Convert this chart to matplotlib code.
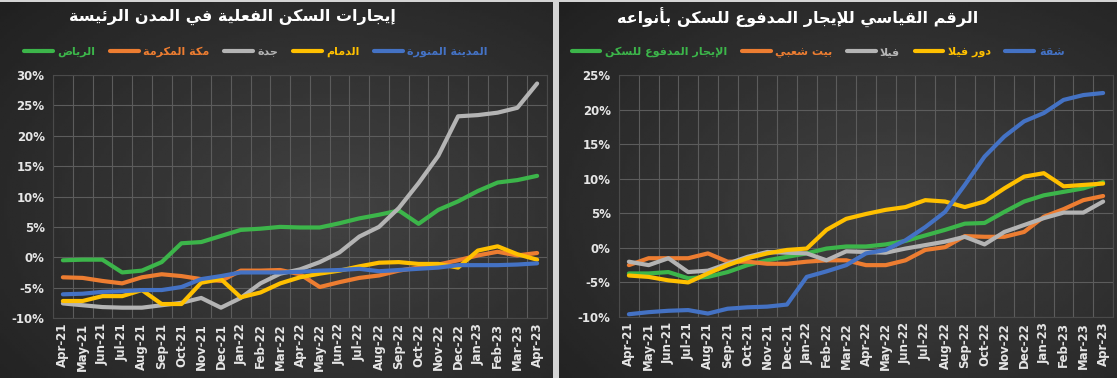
import numpy as np
import pandas as pd
import matplotlib
matplotlib.use("Agg")
import matplotlib.pyplot as plt

# ---- data (values in %) ----
months = list(pd.date_range("2021-04-01", periods=25, freq="MS").strftime("%b-%y"))

# left chart: actual rents in main cities
riyadh  = [-0.5, -0.4, -0.4, -2.5, -2.2, -0.8, 2.3, 2.5, 3.5, 4.5, 4.7, 5.0, 4.9, 4.9, 5.6,
           6.4, 7.0, 7.7, 5.5, 7.8, 9.2, 10.9, 12.3, 12.7, 13.4]
makkah  = [-3.3, -3.4, -3.9, -4.3, -3.3, -2.8, -3.1, -3.6, -3.9, -2.2, -2.2, -2.1, -2.8, -4.9, -4.1,
           -3.4, -3.0, -2.2, -1.7, -1.2, -0.5, 0.3, 0.9, 0.3, 0.7]
jeddah  = [-7.6, -7.9, -8.2, -8.3, -8.3, -7.9, -7.5, -6.7, -8.3, -6.7, -4.3, -2.7, -2.0, -0.8, 0.8,
           3.4, 5.0, 8.1, 12.2, 16.7, 23.2, 23.4, 23.8, 24.6, 28.6]
dammam  = [-7.2, -7.2, -6.4, -6.4, -5.4, -7.7, -7.7, -4.2, -3.6, -6.6, -5.8, -4.3, -3.3, -2.7, -2.2,
           -1.5, -0.9, -0.8, -1.1, -1.1, -1.7, 1.1, 1.8, 0.5, -0.4]
madinah = [-6.1, -6.0, -5.7, -5.6, -5.4, -5.4, -4.9, -3.6, -3.1, -2.5, -2.5, -2.5, -2.4, -2.2, -2.1,
           -1.9, -2.3, -2.1, -1.9, -1.7, -1.3, -1.3, -1.3, -1.2, -1.0]

# right chart: paid rent index by dwelling type
housing = [-3.7, -3.7, -3.5, -4.4, -4.2, -3.5, -2.5, -1.8, -1.3, -0.8, -0.1, 0.2, 0.2, 0.5, 1.0,
           1.8, 2.6, 3.5, 3.6, 5.2, 6.7, 7.6, 8.1, 8.6, 9.5]
house   = [-2.5, -1.5, -1.5, -1.5, -0.8, -2.0, -2.0, -2.3, -2.3, -2.0, -1.8, -1.8, -2.5, -2.5, -1.8,
           -0.3, 0.1, 1.7, 1.6, 1.6, 2.3, 4.5, 5.6, 6.9, 7.5]
villa   = [-2.0, -2.5, -1.5, -3.5, -3.3, -2.3, -1.3, -0.6, -0.7, -0.8, -1.8, -0.5, -0.6, -0.7, -0.1,
           0.4, 0.9, 1.6, 0.5, 2.3, 3.3, 4.3, 5.1, 5.1, 6.7]
floor   = [-4.0, -4.2, -4.7, -5.0, -3.7, -2.5, -1.5, -0.8, -0.3, -0.1, 2.6, 4.2, 4.9, 5.5, 5.9,
           6.9, 6.7, 5.9, 6.7, 8.6, 10.3, 10.8, 8.9, 9.1, 9.3]
flat    = [-9.6, -9.3, -9.1, -9.0, -9.5, -8.8, -8.6, -8.5, -8.2, -4.2, -3.4, -2.5, -0.8, -0.3, 1.1,
           3.0, 5.2, 9.1, 13.2, 16.1, 18.3, 19.5, 21.4, 22.1, 22.4]

GREEN, ORANGE, GRAY, YELLOW, BLUE = "#3cb54a", "#ed7d31", "#b4b4b4", "#ffc000", "#4472c4"

# ---- minimal Arabic shaping (matplotlib has no bidi / joining) ----
LETTERS = "ءآأؤإئابةتثجحخدذرزسشصضطظعغفقكلمنهوىي"
NFORMS = [1, 2, 2, 2, 2, 4, 2, 4, 2, 4, 4, 4, 4, 4, 2, 2, 2, 2, 4, 4,
          4, 4, 4, 4, 4, 4, 4, 4, 4, 4, 4, 4, 4, 2, 2, 4]
FORMS = {}
code = 0xFE80
for ch, n in zip(LETTERS, NFORMS):
    FORMS[ch] = [chr(code + k) for k in range(n)]
    code += n
LAM_ALEF = {"آ": "\ufef5\ufef6", "أ": "\ufef7\ufef8", "إ": "\ufef9\ufefa", "ا": "\ufefb\ufefc"}


def ar(text):
    units, i = [], 0
    while i < len(text):
        if text[i] == "ل" and text[i + 1:i + 2] in LAM_ALEF:
            units.append(text[i:i + 2])
            i += 2
        else:
            units.append(text[i])
            i += 1
    res = []
    for k, u in enumerate(units):
        prev = units[k - 1] if k > 0 else " "
        nxt = units[k + 1] if k + 1 < len(units) else " "
        p = len(FORMS.get(prev, "")) == 4
        if len(u) == 2:
            res.append(LAM_ALEF[u[1]][1 if p else 0])
            continue
        f = FORMS.get(u)
        if f is None:
            res.append(u)
            continue
        p = p and len(f) >= 2
        n = len(f) == 4 and ((nxt in FORMS and len(FORMS[nxt]) >= 2) or len(nxt) == 2)
        res.append(f[3] if p and n else f[1] if p else f[2] if n else f[0])
    return "".join(reversed(res))


plt.rcParams["font.family"] = ["DejaVu Sans"]
plt.rcParams["font.weight"] = "bold"

W, H = 1117, 378
fig = plt.figure(figsize=(W / 100, H / 100), dpi=100, facecolor="#d4d4d4")

# dark gradient panels
yy, xx = np.mgrid[0:1:120j, 0:1:200j]
for x0, x1 in [(0, 553), (559, 1117)]:
    bg = fig.add_axes([x0 / W, 0, (x1 - x0) / W, 376 / H])
    r = np.sqrt(((xx - 0.6) / 0.8) ** 2 + ((yy - 0.55) / 0.8) ** 2)
    bg.imshow(np.clip(0.26 - 0.13 * r, 0.13, 0.3), cmap="gray", vmin=0, vmax=1,
              aspect="auto", extent=[0, 1, 0, 1])
    bg.axis("off")


def panel(rect, series, ylim, title, tpos, lpos):
    ax = fig.add_axes([rect[0] / W, 1 - rect[3] / H, (rect[2] - rect[0]) / W, (rect[3] - rect[1]) / H])
    ax.set_facecolor("none")
    x = np.arange(len(months))
    for vals, col, lab in series:
        ax.plot(x, vals, color=col, lw=3.0, label=ar(lab), solid_capstyle="round",
                solid_joinstyle="round")
    ax.set_xlim(-0.5, len(months) - 0.5)
    ax.set_ylim(*ylim)
    ax.set_yticks(np.arange(ylim[0], ylim[1] + 1, 5))
    ax.set_yticklabels([f"{v}%" for v in range(ylim[0], ylim[1] + 1, 5)])
    ax.set_xticks(x)
    ax.set_xticklabels(months, rotation=90)
    ax.set_xticks(np.arange(-0.5, len(months), 1), minor=True)
    ax.grid(axis="y", which="major", color="#5c5c5c", lw=0.8)
    ax.grid(axis="x", which="minor", color="#5c5c5c", lw=0.8)
    ax.tick_params(which="both", length=0, colors="#e6e6e6", labelsize=8.5)
    ax.tick_params(axis="y", pad=6)
    ax.set_axisbelow(True)
    for s in ax.spines.values():
        s.set_color("#4a4a4a")
        s.set_linewidth(0.8)
    fig.text(tpos[0] / W, 1 - tpos[1] / H, ar(title), color="white", fontsize=11.5,
             ha="center", va="center", fontweight="bold")
    ax.legend(loc="center", bbox_to_anchor=(lpos[0] / W, 1 - lpos[1] / H),
              bbox_transform=fig.transFigure, ncol=len(series), frameon=False,
              labelcolor="linecolor", prop={"size": 8, "weight": "bold"},
              handlelength=2.6, columnspacing=1.3, handletextpad=0.4)
    return ax


panel((53, 75, 547, 318),
      [(riyadh, GREEN, "الرياض"), (makkah, ORANGE, "مكة المكرمة"), (jeddah, GRAY, "جدة"),
       (dammam, YELLOW, "الدمام"), (madinah, BLUE, "المدينة المنورة")],
      (-10, 30), "إيجارات السكن الفعلية في المدن الرئيسة", (232, 17), (256, 52))

panel((619, 75, 1113, 317),
      [(housing, GREEN, "الإيجار المدفوع للسكن"), (house, ORANGE, "بيت شعبي"), (villa, GRAY, "فيلا"),
       (floor, YELLOW, "دور فيلا"), (flat, BLUE, "شقة")],
      (-10, 25), "الرقم القياسي للإيجار المدفوع للسكن بأنواعه", (798, 18), (818, 52))

fig.savefig("out.png", dpi=100, facecolor=fig.get_facecolor())
